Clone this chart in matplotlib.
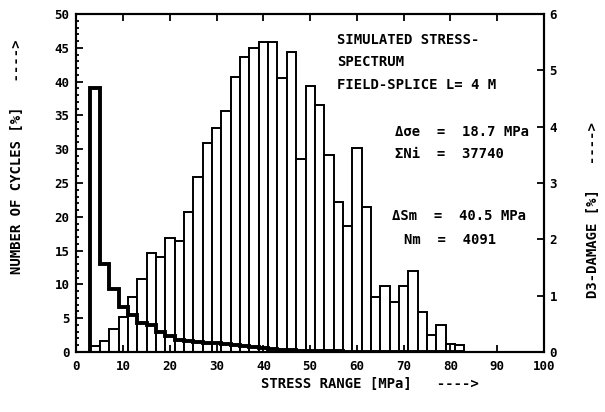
import numpy as np
import matplotlib
matplotlib.use("Agg")
import matplotlib.pyplot as plt

# stress range bins (MPa), 2 MPa wide
stress = [4, 6, 8, 10, 12, 14, 16, 18, 20, 22, 24, 26, 28, 30, 32, 34, 36, 38, 40,
          42, 44, 46, 48, 50, 52, 54, 56, 58, 60, 62, 64, 66, 68, 70, 72, 74, 76,
          78, 80, 82]

# number of cycles [%] (left axis)
cycles = [39.0, 13.0, 9.3, 6.6, 5.5, 4.3, 4.0, 2.9, 2.3, 1.8, 1.6, 1.5, 1.4, 1.3,
          1.2, 1.0, 0.9, 0.7, 0.6, 0.4, 0.3, 0.25, 0.2, 0.15, 0.12, 0.1, 0.08,
          0.07, 0.06, 0.05, 0.04, 0.04, 0.03, 0.03, 0.02, 0.02, 0.02, 0.01, 0.01,
          0.01]

# D3 damage [%] (right axis)
damage = [0.11, 0.19, 0.41, 0.62, 0.97, 1.29, 1.76, 1.69, 2.03, 1.97, 2.49, 3.10,
          3.71, 3.97, 4.27, 4.88, 5.24, 5.40, 5.50, 5.51, 4.87, 5.32, 3.43, 4.72,
          4.38, 3.50, 2.66, 2.23, 3.62, 2.58, 0.98, 1.18, 0.89, 1.18, 1.43, 0.71,
          0.30, 0.48, 0.14, 0.12]

bin_w = 2.0
font = {"family": "DejaVu Sans Mono", "weight": "bold"}

fig = plt.figure(figsize=(6.05, 4.12), dpi=100)
ax = fig.add_axes([0.1264, 0.1456, 0.7726, 0.8204])
ax2 = ax.twinx()

# damage bars behind, cycles line in front
ax2.bar(stress, damage, width=bin_w, color="white", edgecolor="black", linewidth=1.4)
ax.set_zorder(ax2.get_zorder() + 1)
ax.patch.set_visible(False)

edges = np.append(np.array(stress) - bin_w / 2, stress[-1] + bin_w / 2)
ax.stairs(cycles, edges, baseline=0, color="black", linewidth=2.8)

ax.set_xlim(0, 100)
ax.set_ylim(0, 50)
ax2.set_ylim(0, 6)

ax.set_xticks(np.arange(0, 101, 10))
ax.set_yticks(np.arange(0, 51, 5))
ax.set_yticks(np.arange(0, 51, 1), minor=True)
ax2.set_yticks(np.arange(0, 7, 1))

ax.tick_params(axis="both", which="both", direction="in", labelsize=9, width=1.3)
ax.tick_params(axis="x", top=True, length=5, pad=6)
ax.tick_params(axis="y", which="major", length=5, pad=5)
ax.tick_params(axis="y", which="minor", length=2.5)
ax2.tick_params(axis="y", direction="in", length=5, labelsize=9, width=1.3, pad=4)
for lbl in ax.get_xticklabels() + ax.get_yticklabels() + ax2.get_yticklabels():
    lbl.set_fontfamily("DejaVu Sans Mono")
    lbl.set_fontweight("bold")

for a in (ax, ax2):
    for sp in a.spines.values():
        sp.set_linewidth(1.5)

fig.text(0.612, 0.068, "STRESS RANGE [MPa]   ---->", ha="center", va="center",
         fontsize=10, **font)
fig.text(0.028, 0.62, "NUMBER OF CYCLES [%]   ---->", ha="center", va="center",
         rotation=90, fontsize=10, **font)
fig.text(0.98, 0.49, "D3-DAMAGE [%]   ---->", ha="center", va="center",
         rotation=90, fontsize=10, **font)

tx = dict(fontsize=10, transform=ax.transAxes, **font)
ax.text(0.557, 0.911, "SIMULATED STRESS-", **tx)
ax.text(0.557, 0.846, "SPECTRUM", **tx)
ax.text(0.557, 0.778, "FIELD-SPLICE L= 4 M", **tx)
ax.text(0.681, 0.639, "Δσe  =  18.7 MPa", **tx)
ax.text(0.681, 0.574, "ΣNi  =  37740", **tx)
ax.text(0.675, 0.391, "ΔSm  =  40.5 MPa", **tx)
ax.text(0.700, 0.320, "Nm  =  4091", **tx)

fig.savefig("out.png", dpi=100)
